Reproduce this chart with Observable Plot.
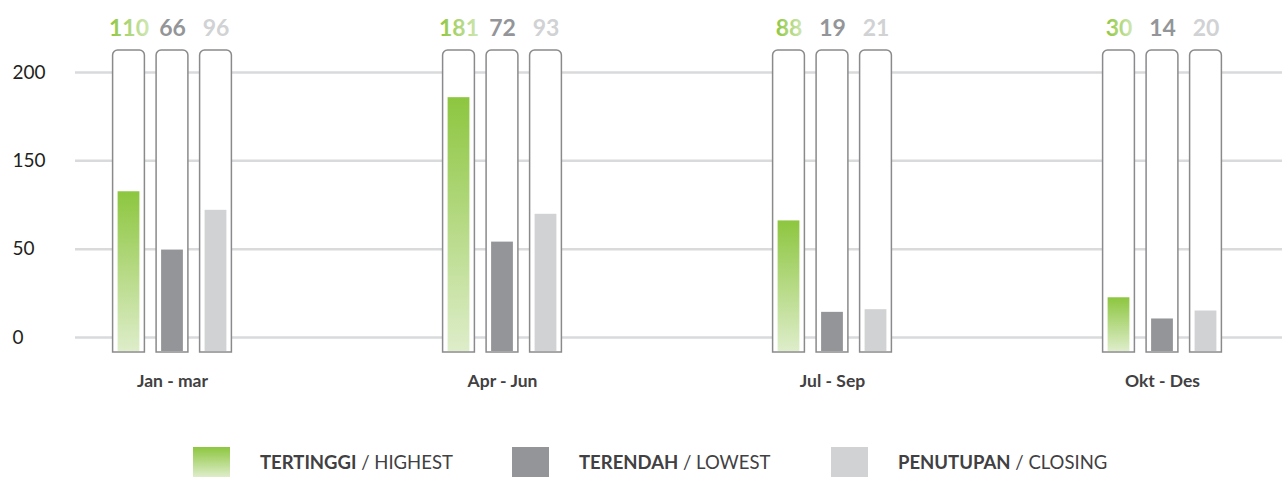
<!DOCTYPE html>
<html><head><meta charset="utf-8">
<script src="https://cdn.jsdelivr.net/npm/d3@7"></script>
<script src="https://cdn.jsdelivr.net/npm/@observablehq/plot@0.6"></script>
<style>
body{margin:0;background:#fff;font-family:Lato,"Open Sans",sans-serif;}
#chart{width:1282px;height:477px;position:relative;overflow:hidden;background:#fff}
.legend{position:relative;height:77px;}
.item{position:absolute;top:47px;display:flex;align-items:center;height:30px;}
.sw{width:37px;height:30px;margin-right:30px}
.lab{font-size:18.5px;color:#414042;white-space:nowrap}
.lab b{font-weight:700}
</style></head><body>
<div id="chart"></div>
<script>
// ---- data ----
const categories = ["Jan - mar", "Apr - Jun", "Jul - Sep", "Okt - Des"];
const highest = [110, 181, 88, 30];
const lowest = [66, 72, 19, 14];
const closing = [96, 93, 21, 20];
const tickValues = [0, 200 / 3, 400 / 3, 200];
const tickLabels = ["0", "50", "150", "200"];
const seriesNames = ["highest", "lowest", "closing"];
const legendBold = ["TERTINGGI", "TERENDAH", "PENUTUPAN"];
const legendRegular = ["HIGHEST", "LOWEST", "CLOSING"];

// ---- styling ----
const seriesValues = [highest, lowest, closing];
const barFills = ["url(#greenBar)", "#939598", "#d1d2d4"];
const labelFills = ["url(#greenText)", "#939598", "#d1d2d4"];
const legendFills = ["linear-gradient(#8dc63f,#deedca)", "#939598", "#d1d2d4"];
const offsets = [-43.5, 0, 43.5];
const yBase = -11.3, yTop = 216.6;
const xRange = [6.6, 1327.4];
const step = (xRange[1] - xRange[0]) / categories.length;
const boxInset = (step - 32) / 2;
const barInset = (step - 22) / 2;
const font = "Lato, 'Open Sans', sans-serif";

const marks = [
  Plot.ruleY(tickValues, {stroke: "#d9dadb", strokeWidth: 2.5}),
  Plot.axisY(tickValues, {
    tickSize: 0, tickPadding: 63, textAnchor: "start",
    tickFormat: d => tickLabels[tickValues.indexOf(d)],
    fontSize: 19, fill: "#231f20", label: null
  })
];
seriesNames.forEach((name, j) => {
  const rows = categories.map((c, i) => ({category: c, value: seriesValues[j][i]}));
  marks.push(
    Plot.barY(categories, {
      x: d => d, y1: yBase, y2: yTop, dx: offsets[j],
      insetLeft: boxInset, insetRight: boxInset,
      fill: "white", stroke: "#8a8a8c", strokeWidth: 1.5, ry1: 5
    }),
    Plot.barY(rows, {
      x: "category", y1: yBase, y2: "value", dx: offsets[j],
      insetLeft: barInset, insetRight: barInset, insetBottom: 1,
      fill: barFills[j]
    }),
    Plot.text(rows, {
      x: "category", text: d => String(d.value), frameAnchor: "top", lineAnchor: "middle",
      dy: -22, dx: offsets[j],
      fill: labelFills[j], fontSize: 23, fontWeight: 700
    })
  );
});
marks.push(
  Plot.text(categories, {
    x: d => d, text: d => d, frameAnchor: "bottom", lineAnchor: "middle", dy: 29,
    fontSize: 17.5, fontWeight: 700, fill: "#414042"
  })
);

const plot = Plot.plot({
  width: 1282, height: 400,
  marginLeft: 75, marginRight: 0, marginTop: 50, marginBottom: 48,
  x: {type: "band", domain: categories, range: xRange, padding: 0, axis: null},
  y: {domain: [yBase, yTop], axis: null},
  style: {fontFamily: font, background: "white", overflow: "visible"},
  marks
});

// gradients
const ns = "http://www.w3.org/2000/svg";
const defs = document.createElementNS(ns, "defs");
function grad(id, x2, y2, c1, c2) {
  const g = document.createElementNS(ns, "linearGradient");
  g.setAttribute("id", id);
  g.setAttribute("x1", "0"); g.setAttribute("y1", "0");
  g.setAttribute("x2", x2); g.setAttribute("y2", y2);
  [[0, c1], [1, c2]].forEach(([o, c]) => {
    const s = document.createElementNS(ns, "stop");
    s.setAttribute("offset", o); s.setAttribute("stop-color", c);
    g.appendChild(s);
  });
  defs.appendChild(g);
}
grad("greenBar", "0", "1", "#8dc63f", "#deedca");
grad("greenText", "1", "0", "#8dc63f", "#d0e7b4");
plot.insertBefore(defs, plot.firstChild);

const chart = document.getElementById("chart");
chart.appendChild(plot);

// legend
const legend = document.createElement("div");
legend.className = "legend";
const lefts = [193, 512, 831];
seriesNames.forEach((name, j) => {
  const item = document.createElement("div");
  item.className = "item";
  item.style.left = lefts[j] + "px";
  const sw = document.createElement("div");
  sw.className = "sw";
  sw.style.background = legendFills[j];
  const lab = document.createElement("div");
  lab.className = "lab";
  const b = document.createElement("b");
  b.textContent = legendBold[j];
  lab.appendChild(b);
  lab.appendChild(document.createTextNode(" / " + legendRegular[j]));
  item.appendChild(sw); item.appendChild(lab);
  legend.appendChild(item);
});
chart.appendChild(legend);
</script>
</body></html>
